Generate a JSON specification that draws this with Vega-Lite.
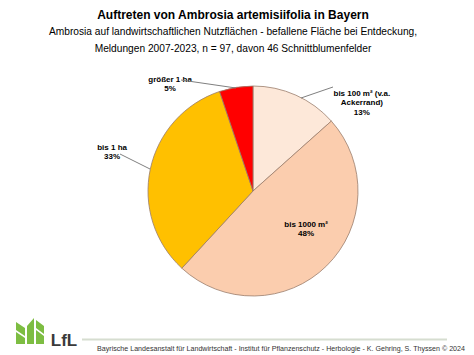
{
  "$schema": "https://vega.github.io/schema/vega-lite/v6.json",
  "autosize": {"type": "none"},
  "width": 442,
  "height": 244,
  "padding": {"left": 32, "top": 69, "right": 0, "bottom": 42},
  "background": "white",
  "config": {"view": {"stroke": null}, "font": "Liberation Sans"},
  "title": {
    "text": "Auftreten von Ambrosia artemisiifolia in Bayern",
    "subtitle": ["Ambrosia auf landwirtschaftlichen Nutzflächen - befallene Fläche bei Entdeckung,", "Meldungen 2007-2023, n = 97, davon 46 Schnittblumenfelder"],
    "anchor": "middle",
    "dx": -20,
    "offset": -20,
    "font": "Liberation Sans",
    "fontSize": 12,
    "fontWeight": "bold",
    "color": "#000000",
    "subtitleFont": "Liberation Sans",
    "subtitleFontSize": 10.2,
    "subtitleColor": "#000000",
    "subtitleLineHeight": 17,
    "subtitlePadding": 5
  },
  "data": {
    "values": [
      {"rank": 1, "cat": "bis 100 m² (v.a. Ackerrand)", "n": 13, "label": "bis 100 m² (v.a.\nAckerrand)\n13%"},
      {"rank": 2, "cat": "bis 1000 m²", "n": 47, "label": "bis 1000 m²\n48%"},
      {"rank": 3, "cat": "bis 1 ha", "n": 32, "label": "bis 1 ha\n33%"},
      {"rank": 4, "cat": "größer 1 ha", "n": 5, "label": "größer 1 ha\n5%"}
    ]
  },
  "layer": [
    {
      "mark": {"type": "arc", "outerRadius": 105, "stroke": "#9a7d6c", "strokeWidth": 0.8},
      "encoding": {
        "theta": {"field": "n", "type": "quantitative", "stack": true},
        "order": {"field": "rank", "type": "quantitative"},
        "color": {
          "field": "cat",
          "type": "nominal",
          "scale": {
            "domain": ["bis 100 m² (v.a. Ackerrand)", "bis 1000 m²", "bis 1 ha", "größer 1 ha"],
            "range": ["#FDE8D9", "#FBCDAE", "#FFC000", "#FF0000"]
          },
          "legend": null
        }
      }
    },
    {
      "mark": {"type": "text", "radius": 100, "dx": 68, "dy": -6, "fontSize": 8, "fontWeight": "bold", "lineBreak": "\n", "lineHeight": 9.5, "align": "center", "baseline": "middle", "color": "#000000"},
      "encoding": {
        "theta": {"field": "n", "type": "quantitative", "stack": true},
        "order": {"field": "rank", "type": "quantitative"},
        "detail": {"field": "cat", "type": "nominal"},
        "text": {"condition": {"test": "datum.rank == 1", "field": "label"}, "value": ""}
      }
    },
    {
      "mark": {"type": "text", "radius": 60, "dx": 11, "dy": -9, "fontSize": 8, "fontWeight": "bold", "lineBreak": "\n", "lineHeight": 9.5, "align": "center", "baseline": "middle", "color": "#000000"},
      "encoding": {
        "theta": {"field": "n", "type": "quantitative", "stack": true},
        "order": {"field": "rank", "type": "quantitative"},
        "detail": {"field": "cat", "type": "nominal"},
        "text": {"condition": {"test": "datum.rank == 2", "field": "label"}, "value": ""}
      }
    },
    {
      "mark": {"type": "text", "radius": 140, "dx": -4, "dy": -14, "fontSize": 8, "fontWeight": "bold", "lineBreak": "\n", "lineHeight": 9.5, "align": "center", "baseline": "middle", "color": "#000000"},
      "encoding": {
        "theta": {"field": "n", "type": "quantitative", "stack": true},
        "order": {"field": "rank", "type": "quantitative"},
        "detail": {"field": "cat", "type": "nominal"},
        "text": {"condition": {"test": "datum.rank == 3", "field": "label"}, "value": ""}
      }
    },
    {
      "mark": {"type": "text", "radius": 130, "dx": -62, "dy": 17, "fontSize": 8, "fontWeight": "bold", "lineBreak": "\n", "lineHeight": 9.5, "align": "center", "baseline": "middle", "color": "#000000"},
      "encoding": {
        "theta": {"field": "n", "type": "quantitative", "stack": true},
        "order": {"field": "rank", "type": "quantitative"},
        "detail": {"field": "cat", "type": "nominal"},
        "text": {"condition": {"test": "datum.rank == 4", "field": "label"}, "value": ""}
      }
    },
    {
      "data": {"values": [{"part": "leader lines"}]},
      "mark": {"type": "point", "shape": "M48,-93L80,-104M-133,-37L-103,-22M-72,-111L-17,-103", "size": 4, "filled": false, "stroke": "#808080", "strokeWidth": 1, "opacity": 1},
      "encoding": {}
    },
    {
      "data": {"values": [{"part": "footer line"}]},
      "mark": {"type": "point", "shape": "M-171,148.5L194,148.5", "size": 4, "filled": false, "stroke": "#d6ddd0", "strokeWidth": 2, "opacity": 1},
      "encoding": {}
    },
    {
      "data": {"values": [{"part": "logo"}]},
      "mark": {"type": "point", "shape": "M-237,153L-237,141L-228,147L-228,153ZM-237,139L-237,131L-228,137L-228,145ZM-226,153L-226,135L-219,127L-219,153ZM-217,153L-217,139L-209,145L-209,153ZM-217,137L-217,129L-209,135L-209,143Z", "size": 4, "filled": true, "fill": "#7dbd42", "strokeWidth": 0, "opacity": 1},
      "encoding": {}
    },
    {
      "data": {"values": [{"txt": "LfL"}]},
      "mark": {"type": "text", "dx": -189, "dy": 150, "fontSize": 17, "fontWeight": "bold", "color": "#3a3a3a", "align": "center", "baseline": "middle"},
      "encoding": {"text": {"field": "txt"}}
    },
    {
      "data": {"values": [{"txt": "Bayrische Landesanstalt für Landwirtschaft - Institut für Pflanzenschutz  -  Herbologie  -  K. Gehring, S. Thyssen   © 2024"}]},
      "mark": {"type": "text", "dx": 28, "dy": 158, "fontSize": 7.1, "color": "#333333", "align": "center", "baseline": "middle"},
      "encoding": {"text": {"field": "txt"}}
    }
  ]
}
